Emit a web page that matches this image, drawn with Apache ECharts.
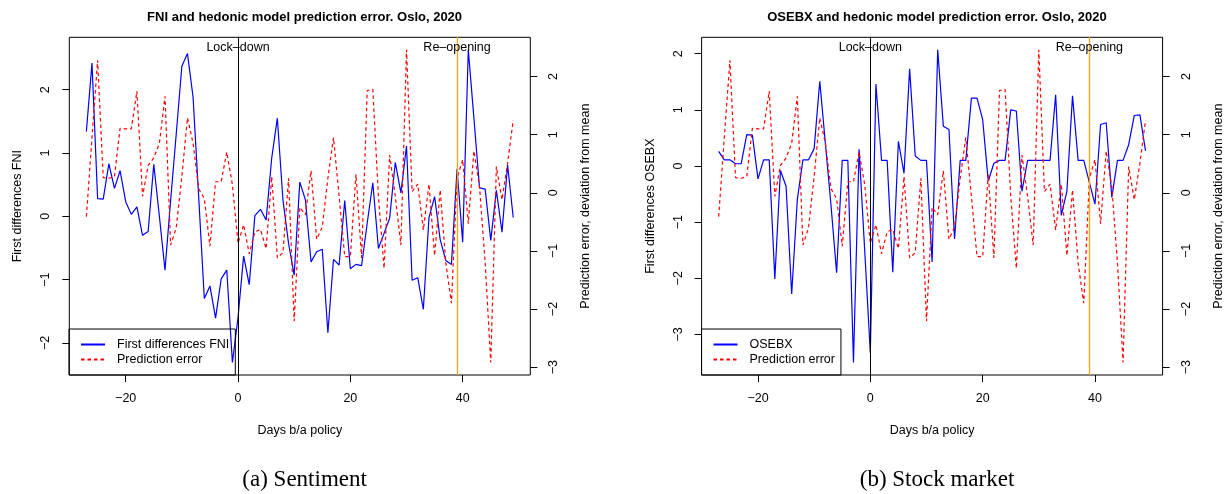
<!DOCTYPE html>
<html>
<head>
<meta charset="utf-8">
<script src="https://cdn.jsdelivr.net/npm/echarts@6/dist/echarts.min.js"></script>
<style>html,body{margin:0;padding:0;background:#fff}#c{width:1229px;height:494px}</style>
</head>
<body>
<div id="c"></div>
<script>
const days = [-27,-26,-25,-24,-23,-22,-21,-20,-19,-18,-17,-16,-15,-14,-13,-12,-11,-10,-9,-8,-7,-6,-5,-4,-3,-2,-1,0,1,2,3,4,5,6,7,8,9,10,11,12,13,14,15,16,17,18,19,20,21,22,23,24,25,26,27,28,29,30,31,32,33,34,35,36,37,38,39,40,41,42,43,44,45,46,47,48,49];
const fni = [1.34,2.42,0.28,0.27,0.83,0.44,0.72,0.23,0.03,0.15,
 -0.30,-0.24,0.82,0.00,-0.85,0.25,1.30,2.37,2.57,1.88,
 0.30,-1.30,-1.10,-1.61,-0.99,-0.85,-2.31,-1.60,-0.63,-1.08,
 0.01,0.11,-0.06,0.92,1.55,0.26,-0.43,-0.93,0.54,0.26,
 -0.72,-0.56,-0.52,-1.84,-0.68,-0.77,0.25,-0.83,-0.76,-0.78,
 -0.11,0.53,-0.51,-0.27,-0.03,0.85,0.37,1.11,-1.01,-0.97,
 -1.47,-0.02,0.31,-0.37,-0.70,-0.76,0.75,-0.41,2.63,1.55,
 0.45,0.43,-0.38,0.41,-0.25,0.81,-0.02];
const predErr = [-0.41,0.95,2.28,0.26,0.25,0.28,1.11,1.10,1.10,1.75,
 -0.06,0.47,0.60,0.85,1.66,-0.90,-0.60,0.28,1.29,0.85,
 0.07,-0.10,-0.92,0.19,0.19,0.70,0.14,-0.87,-0.55,-1.05,
 -0.67,-0.63,-0.96,0.28,-1.12,-1.03,0.25,-2.21,-0.25,-0.38,
 0.38,-0.80,-0.59,0.25,0.95,-0.06,-1.10,-1.10,0.32,-1.12,
 1.76,1.78,-0.06,-1.30,0.65,-0.06,-0.90,2.46,0.02,0.15,
 -0.64,0.15,-1.08,0.05,-1.21,-1.90,0.25,0.57,-0.53,0.72,
 0.10,-1.20,-2.92,0.45,-0.12,0.51,1.25];
const osebx = [0.26,0.11,0.11,0.04,0.04,0.56,0.55,-0.23,0.11,0.11,
 -2.01,-0.08,-0.36,-2.28,-0.60,0.11,0.11,0.31,1.51,0.40,
 -0.70,-1.90,0.10,0.10,-3.50,0.30,-1.50,-3.33,1.46,0.10,
 0.10,-1.89,0.44,-0.13,1.73,0.18,0.10,0.10,-1.71,2.07,
 0.71,0.65,-1.30,0.10,0.10,1.21,1.21,0.83,-0.27,0.05,
 0.10,0.10,1.00,0.98,-0.45,0.10,0.10,0.10,0.10,0.10,
 1.27,-0.88,-0.45,1.25,0.10,0.10,-0.29,-0.68,0.74,0.77,
 -0.56,0.10,0.10,0.38,0.90,0.91,0.27];
const xTicks = [-20,0,20,40];
const fniTicks = [-2,-1,0,1,2];
const errTicks = [-3,-2,-1,0,1,2];
const osebxTicks = [-3,-2,-1,0,1,2];
const lockDownDay = 0, reopenDay = 39;

function rng(a){const lo=Math.min(...a),hi=Math.max(...a),p=0.04*(hi-lo);return [lo-p,hi+p];}
const xr = rng(days), fr = rng(fni), er = rng(predErr), orr = rng(osebx);
const pairs = v => days.map((d,i)=>[d,v[i]]);
const FONT = 'Liberation Sans';
const minus = v => String(v).replace('-', '\u2212');
const FS = 12.5;

function xAxis(gi){
  return {type:'value', gridIndex:gi, min:xr[0], max:xr[1],
    axisLine:{show:false, onZero:false}, splitLine:{show:false},
    axisTick:{show:true, length:7, customValues:xTicks, lineStyle:{color:'#000'}},
    axisLabel:{customValues:xTicks, margin:17, color:'#000', fontSize:FS, fontFamily:FONT, formatter:minus},
    name:'Days b/a policy', nameLocation:'middle', nameGap:49,
    nameTextStyle:{color:'#000', fontSize:FS, fontFamily:FONT}};
}
function yAxis(gi, pos, r, ticks, name, gap){
  return {type:'value', gridIndex:gi, position:pos, min:r[0], max:r[1],
    axisLine:{show:false, onZero:false}, splitLine:{show:false},
    axisTick:{show:true, length:7, customValues:ticks, lineStyle:{color:'#000'}},
    axisLabel:{customValues:ticks, rotate:90, margin:17, color:'#000', fontSize:FS, fontFamily:FONT, formatter:minus},
    name:name, nameLocation:'middle', nameGap:gap,
    nameTextStyle:{color:'#000', fontSize:FS, fontFamily:FONT}};
}
const vlines = {symbol:'none', silent:true, label:{show:false},
  lineStyle:{type:'solid', width:1},
  data:[{xAxis:lockDownDay, lineStyle:{color:'#000000', type:'solid', width:1, opacity:1}},
        {xAxis:reopenDay, lineStyle:{color:'#FFA500', type:'solid', width:1.3, opacity:1}}]};
function marks(r){
  return {symbol:'circle', symbolSize:0, silent:true,
    label:{show:true, position:'inside', color:'#000', fontSize:FS, fontFamily:FONT, offset:[0,10]},
    data:[{coord:[lockDownDay, r[1]], value:'Lock\u2013down', label:{formatter:'Lock\u2013down'}},
          {coord:[reopenDay, r[1]], value:'Re\u2013opening', label:{formatter:'Re\u2013opening'}}]};
}
const legendBase = {orient:'vertical', top:329, itemWidth:24, itemHeight:14, itemGap:2,
  padding:[9,6,9,11], borderColor:'#000', borderWidth:1, borderRadius:0,
  itemStyle:{opacity:0, borderWidth:0},
  textStyle:{color:'#000', fontSize:FS, fontFamily:FONT, padding:[0,0,0,7]}};

const option = {
  animation:false,
  textStyle:{fontFamily:FONT},
  title:[
    {text:'FNI and hedonic model prediction error. Oslo, 2020', left:299.6, top:6, textAlign:'center',
     textStyle:{fontSize:13, fontWeight:'bold', color:'#000', fontFamily:FONT}},
    {text:'OSEBX and hedonic model prediction error. Oslo, 2020', left:932, top:6, textAlign:'center',
     textStyle:{fontSize:13, fontWeight:'bold', color:'#000', fontFamily:FONT}},
    {text:'(a) Sentiment', left:299.6, top:463, textAlign:'center',
     textStyle:{fontSize:23, fontWeight:'normal', color:'#000', fontFamily:'Liberation Serif'}},
    {text:'(b) Stock market', left:932, top:463, textAlign:'center',
     textStyle:{fontSize:23, fontWeight:'normal', color:'#000', fontFamily:'Liberation Serif'}}
  ],
  legend:[
    Object.assign({}, legendBase, {left:69, data:['First differences FNI','Prediction error']}),
    Object.assign({}, legendBase, {left:701.5, data:['OSEBX','Prediction error']})
  ],
  grid:[
    {left:69.3, top:37.3, width:461, height:337.7, show:true, borderColor:'#000', borderWidth:1, backgroundColor:'transparent'},
    {left:701.6, top:37.3, width:461, height:337.7, show:true, borderColor:'#000', borderWidth:1, backgroundColor:'transparent'}
  ],
  xAxis:[xAxis(0), xAxis(1)],
  yAxis:[
    yAxis(0,'left',fr,fniTicks,'First differences FNI',45),
    yAxis(0,'right',er,errTicks,'Prediction error, deviation from mean',49),
    yAxis(1,'left',orr,osebxTicks,'First differences OSEBX',45),
    yAxis(1,'right',er,errTicks,'Prediction error, deviation from mean',49)
  ],
  series:[
    {name:'First differences FNI', type:'line', xAxisIndex:0, yAxisIndex:0, data:pairs(fni),
     symbol:'none', lineStyle:{color:'#0000FF', width:1.2}, itemStyle:{color:'#0000FF'}, markPoint:marks(fr)},
    {name:'Prediction error', type:'line', xAxisIndex:0, yAxisIndex:1, data:pairs(predErr),
     symbol:'none', lineStyle:{color:'#FF0000', width:1.2, type:[3.5,3]}, itemStyle:{color:'#FF0000'}, markLine:vlines},
    {name:'OSEBX', type:'line', xAxisIndex:1, yAxisIndex:2, data:pairs(osebx),
     symbol:'none', lineStyle:{color:'#0000FF', width:1.2}, itemStyle:{color:'#0000FF'}, markPoint:marks(orr)},
    {name:'Prediction error', type:'line', xAxisIndex:1, yAxisIndex:3, data:pairs(predErr),
     symbol:'none', lineStyle:{color:'#FF0000', width:1.2, type:[3.5,3]}, itemStyle:{color:'#FF0000'}, markLine:vlines}
  ]
};
const chart = echarts.init(document.getElementById('c'), null, {renderer:'canvas'});
chart.setOption(option);
</script>
</body>
</html>
